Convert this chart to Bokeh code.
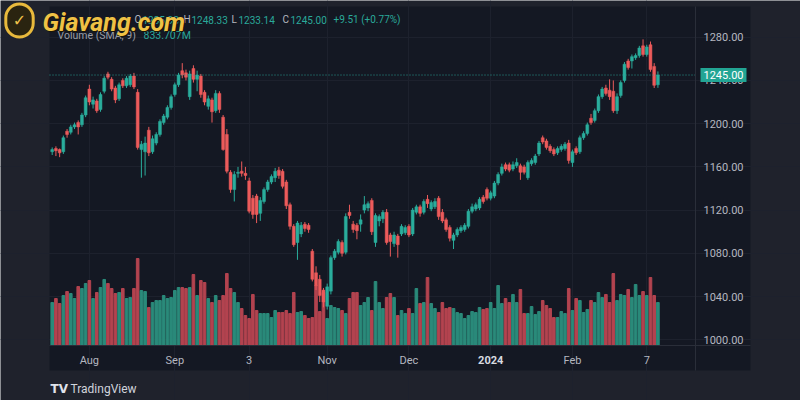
from bokeh.plotting import figure
from bokeh.models import (Range1d, FixedTicker, NumeralTickFormatter, Label,
                          BoxAnnotation, ColumnDataSource)
from bokeh.embed import file_html
from bokeh.resources import INLINE

# ---------------- data (daily candles) ----------------
opens = [1174, 1177, 1176, 1174, 1193, 1192, 1197, 1201, 1199, 1208,
         1232, 1218, 1221, 1213, 1230, 1246, 1241, 1233, 1223, 1240,
         1235, 1236, 1244, 1229, 1176, 1174, 1194, 1174, 1182, 1190,
         1201, 1206, 1215, 1227, 1236, 1249, 1247, 1225, 1251, 1241,
         1244, 1229, 1216, 1222, 1212, 1228, 1206, 1190, 1155, 1139,
         1154, 1156, 1154, 1147, 1131, 1133, 1117, 1128, 1139, 1146,
         1150, 1157, 1156, 1146, 1125, 1105, 1090, 1098, 1107, 1106,
         1082, 1062, 1056, 1046, 1031, 1045, 1076, 1081, 1090, 1081,
         1118, 1107, 1106, 1107, 1120, 1122, 1129, 1090, 1110, 1112,
         1118, 1097, 1089, 1096, 1098, 1099, 1105, 1098, 1118, 1123,
         1118, 1130, 1121, 1123, 1131, 1118, 1111, 1104, 1092, 1097,
         1101, 1102, 1105, 1119, 1121, 1122, 1132, 1139, 1131, 1133,
         1145, 1154, 1162, 1162, 1158, 1161, 1161, 1160, 1150, 1163,
         1164, 1172, 1187, 1184, 1179, 1176, 1173, 1176, 1177, 1182,
         1164, 1177, 1174, 1187, 1191, 1205, 1203, 1212, 1225, 1233,
         1231, 1230, 1212, 1226, 1240, 1258, 1258, 1261, 1263, 1272,
         1264, 1273, 1253, 1235.98]
highs = [1178, 1179, 1177, 1189, 1195, 1199, 1201, 1203, 1210, 1226,
         1236, 1225, 1223, 1229, 1244, 1248, 1243, 1235, 1238, 1242,
         1244, 1246, 1247, 1232, 1184, 1188, 1197, 1189, 1192, 1204,
         1209, 1217, 1227, 1238, 1247, 1256, 1250, 1249, 1254, 1249,
         1246, 1231, 1226, 1224, 1231, 1230, 1208, 1195, 1157, 1156,
         1160, 1165, 1160, 1150, 1134, 1135, 1132, 1141, 1148, 1153,
         1159, 1160, 1158, 1148, 1127, 1107, 1110, 1109, 1109, 1108,
         1084, 1068, 1060, 1048, 1052, 1078, 1084, 1093, 1092, 1117,
         1125, 1110, 1108, 1116, 1133, 1128, 1131, 1117, 1116, 1120,
         1121, 1099, 1100, 1098, 1107, 1106, 1107, 1122, 1125, 1125,
         1130, 1134, 1129, 1131, 1133, 1121, 1113, 1106, 1099, 1104,
         1106, 1108, 1121, 1126, 1127, 1132, 1134, 1141, 1138, 1147,
         1155, 1163, 1164, 1164, 1165, 1168, 1163, 1162, 1166, 1168,
         1172, 1184, 1189, 1186, 1181, 1178, 1179, 1181, 1183, 1185,
         1176, 1179, 1189, 1193, 1201, 1209, 1214, 1227, 1234, 1236,
         1241, 1240, 1228, 1240, 1257, 1260, 1264, 1265, 1272, 1278,
         1273, 1276, 1256, 1248.33]
lows = [1171, 1170, 1169, 1172, 1187, 1190, 1195, 1190, 1197, 1206,
        1217, 1214, 1210, 1211, 1228, 1241, 1230, 1219, 1221, 1233,
        1233, 1234, 1232, 1176, 1150, 1152, 1170, 1172, 1180, 1188,
        1199, 1204, 1213, 1225, 1234, 1242, 1240, 1222, 1238, 1230,
        1224, 1217, 1213, 1201, 1210, 1210, 1175, 1154, 1136, 1128,
        1150, 1151, 1148, 1117, 1112, 1108, 1110, 1126, 1137, 1144,
        1146, 1149, 1140, 1121, 1102, 1086, 1074, 1095, 1100, 1099,
        1054, 1046, 1035, 1030, 1028, 1042, 1074, 1079, 1077, 1079,
        1112, 1099, 1093, 1100, 1117, 1119, 1097, 1086, 1105, 1108,
        1088, 1077, 1086, 1076, 1096, 1097, 1095, 1096, 1116, 1114,
        1116, 1122, 1119, 1121, 1111, 1108, 1100, 1091, 1084, 1095,
        1099, 1100, 1103, 1117, 1119, 1120, 1126, 1129, 1129, 1131,
        1143, 1152, 1156, 1155, 1156, 1159, 1148, 1153, 1148, 1161,
        1162, 1170, 1181, 1176, 1173, 1170, 1171, 1174, 1175, 1163,
        1160, 1171, 1172, 1185, 1189, 1199, 1201, 1210, 1223, 1226,
        1222, 1210, 1209, 1224, 1238, 1250, 1251, 1259, 1261, 1262,
        1262, 1248, 1233, 1233.14]
closes = [1176, 1175, 1173, 1187, 1190, 1197, 1199, 1197, 1208, 1224,
          1220, 1222, 1212, 1227, 1242, 1243, 1232, 1222, 1236, 1235,
          1242, 1244, 1234, 1178, 1181, 1182, 1173, 1186, 1190, 1202,
          1207, 1215, 1225, 1236, 1245, 1245, 1243, 1246, 1241, 1245,
          1227, 1220, 1223, 1211, 1228, 1213, 1176, 1156, 1139, 1153,
          1155, 1154, 1152, 1119, 1116, 1116, 1129, 1139, 1146, 1151,
          1156, 1152, 1142, 1124, 1105, 1088, 1108, 1106, 1103, 1102,
          1056, 1050, 1041, 1035, 1049, 1076, 1082, 1091, 1080, 1114,
          1115, 1102, 1101, 1111, 1125, 1126, 1100, 1115, 1114, 1118,
          1090, 1091, 1097, 1088, 1105, 1104, 1097, 1120, 1123, 1117,
          1128, 1126, 1127, 1128, 1114, 1110, 1102, 1094, 1097, 1102,
          1104, 1106, 1119, 1123, 1125, 1130, 1128, 1131, 1136, 1145,
          1153, 1160, 1158, 1157, 1162, 1164, 1155, 1155, 1164, 1166,
          1170, 1182, 1183, 1178, 1175, 1172, 1177, 1179, 1181, 1166,
          1174, 1173, 1187, 1191, 1199, 1201, 1212, 1225, 1232, 1228,
          1225, 1212, 1225, 1238, 1255, 1252, 1262, 1263, 1270, 1264,
          1271, 1250, 1235.49, 1245.00]
volumes_m = [671, 733, 655, 780, 842, 811, 733, 920, 889, 967,
             1014, 733, 827, 905, 1030, 967, 889, 811, 827, 889,
             733, 749, 889, 1357, 858, 842, 593, 671, 702, 702,
             780, 733, 749, 858, 905, 905, 889, 905, 1108, 780,
             1014, 983, 733, 671, 780, 702, 780, 1123, 889, 827,
             671, 577, 468, 421, 796, 546, 499, 499, 499, 437,
             546, 515, 515, 546, 499, 827, 515, 530, 468, 421,
             437, 936, 530, 827, 421, 624, 593, 577, 546, 499,
             733, 827, 827, 624, 671, 749, 546, 998, 671, 577,
             749, 811, 749, 468, 546, 499, 577, 499, 889, 655,
             671, 1061, 655, 577, 515, 671, 577, 593, 577, 515,
             499, 421, 468, 530, 515, 593, 562, 577, 671, 577,
             936, 655, 733, 671, 796, 671, 874, 499, 499, 608,
             484, 530, 702, 624, 577, 437, 437, 530, 499, 889,
             546, 733, 702, 515, 562, 702, 671, 827, 749, 796,
             671, 1123, 702, 796, 780, 874, 749, 952, 780, 842,
             780, 1061, 780, 671]

tick_index = [10, 33, 53, 74, 96, 118, 140, 160]
tick_labels = ["Aug", "Sep", "3", "Nov", "Dec", "2024", "Feb", "7"]
price_ticks = [1000, 1040, 1080, 1120, 1160, 1200, 1240, 1280]
last_price = 1245.00
header_values = ["1235.98", "1248.33", "1233.14", "1245.00"]
change_text = "+9.51 (+0.77%)"
volume_sma = "833.707M"

# ---------------- layout constants (canvas pixels) ----------------
W, H = 800, 400
X0_PX, DX_PX = 51.7, 3.716          # first candle position, candle spacing
P_REF, Y_REF, PY = 1280.0, 36.7, 1.0807   # price 1280 at y=36.7, px per point
VOL_PX = 15.6                        # million shares per pixel
PLOT_L, PLOT_R, PLOT_T, PLOT_B = 49, 695, 6, 345
WIDGET_R, WIDGET_B = 750, 370

def xd(px):   # canvas x -> bar index
    return (px - X0_PX) / DX_PX

def yd(py):   # canvas y -> price
    return P_REF - (py - Y_REF) / PY

# ---------------- styling ----------------
INNER = "#141823"
OUTER = "#1f222c"
GRID = "#1d212d"
UP = "#2aad9c"
DOWN = "#ec5b5b"
VUP = "#2a8a7a"
VDOWN = "#b3434f"
TXT = "#b4b7c0"
TEAL = "#2aa99a"

n = len(closes)
idx = list(range(n))
is_up = [c >= o for o, c in zip(opens, closes)]
src = ColumnDataSource(dict(
    x=idx,
    o=opens, h=highs, l=lows, c=closes,
    top=[max(o, c) for o, c in zip(opens, closes)],
    bot=[min(o, c) for o, c in zip(opens, closes)],
    col=[UP if u else DOWN for u in is_up],
    vcol=[VUP if u else VDOWN for u in is_up],
    vol=volumes_m,
))

p = figure(width=W, height=H, output_backend="svg", toolbar_location=None,
           x_range=Range1d(xd(0), xd(W)), y_range=Range1d(yd(H), yd(0)),
           x_axis_location="below", y_axis_location="right",
           min_border_left=0, min_border_right=0, min_border_top=0, min_border_bottom=0,
           background_fill_color=OUTER, border_fill_color=OUTER, outline_line_color=None)

p.extra_y_ranges = {"vol": Range1d(-(H - PLOT_B) * VOL_PX, PLOT_B * VOL_PX)}

# widget background
p.add_layout(BoxAnnotation(left=xd(PLOT_L), right=xd(WIDGET_R), top=yd(PLOT_T), bottom=yd(WIDGET_B),
                           fill_color=INNER, fill_alpha=1, line_color=None, level="image"))

# grids
p.xgrid.ticker = FixedTicker(ticks=tick_index)
p.ygrid.ticker = FixedTicker(ticks=price_ticks)
p.xgrid.grid_line_color = GRID
p.ygrid.grid_line_color = GRID
p.xgrid.bounds = (yd(PLOT_B), yd(PLOT_T))
p.ygrid.bounds = (xd(PLOT_L), xd(PLOT_R))

# axes (drawn at fixed positions inside the canvas)
p.yaxis.fixed_location = xd(PLOT_R)
p.yaxis.bounds = (yd(WIDGET_B), yd(PLOT_T))
p.xaxis.fixed_location = yd(PLOT_B)
p.xaxis.bounds = (xd(PLOT_L), xd(WIDGET_R))
p.yaxis.ticker = FixedTicker(ticks=price_ticks)
p.yaxis.formatter = NumeralTickFormatter(format="0.00")
p.xaxis.ticker = FixedTicker(ticks=tick_index)
overrides = {i: t for i, t in zip(tick_index, tick_labels)}
overrides[118] = ""
p.xaxis.major_label_overrides = overrides
for ax in (p.xaxis, p.yaxis):
    ax.axis_line_color = "#2a2e39"
    ax.major_tick_line_color = None
    ax.minor_tick_line_color = None
    ax.major_tick_out = 0
    ax.major_tick_in = 0
    ax.major_label_text_color = TXT
    ax.major_label_text_font = "Roboto"
    ax.major_label_text_font_size = "11px"
p.yaxis.major_label_standoff = 8
p.xaxis.major_label_standoff = 8

# volume
p.vbar(x="x", top="vol", bottom=0, width=0.7, color="vcol", source=src, y_range_name="vol")

# candles
p.segment(x0="x", y0="l", x1="x", y1="h", color="col", line_width=1, source=src)
p.vbar(x="x", top="top", bottom="bot", width=0.78, fill_color="col", line_color="col",
       line_width=0.5, source=src)

# last price line
p.segment(x0=[xd(PLOT_L)], x1=[xd(PLOT_R)], y0=[last_price], y1=[last_price],
          line_color=TEAL, line_dash="1 2", line_width=1, line_alpha=0.9)

def lab(x, y, text, color, size="10px", style="normal", align="left", font="Roboto"):
    p.add_layout(Label(x=x, y=H - y, x_units="screen", y_units="screen",
                       text=text, text_color=color, text_font=font, text_font_size=size,
                       text_font_style=style, text_align=align, text_baseline="middle"))

# price tag
p.add_layout(Label(x=PLOT_R + 5, y=last_price, x_units="screen", y_units="data",
                   text=f"{last_price:.2f}", text_color="#ffffff", text_font="Roboto",
                   text_font_size="11px", text_baseline="middle", text_align="left",
                   background_fill_color="#22a594", padding=3))

# bold year label on the time axis
p.add_layout(Label(x=118, y=H - 359, x_units="data", y_units="screen", text="2024",
                   text_color="#d8dae0", text_font="Roboto", text_font_size="11px",
                   text_font_style="bold", text_align="center", text_baseline="middle"))

# header legend
lab(134, 19, "O", TXT)
lab(142, 19, header_values[0], TEAL)
lab(183, 19, "H", TXT)
lab(191, 19, header_values[1], TEAL)
lab(231, 19, "L", TXT)
lab(238, 19, header_values[2], TEAL)
lab(282, 19, "C", TXT)
lab(290, 19, header_values[3], TEAL)
lab(333, 19, change_text, TEAL)
lab(57, 35, "Volume (SMA, 9)", "#9a9da6", size="10.5px")
lab(143, 35, volume_sma, TEAL, size="10.5px")

# watermark logo
p.add_layout(Label(x=19, y=H - 20, x_units="screen", y_units="screen", text="✓",
                   text_color="#f0c24a", text_font="DejaVu Sans", text_font_size="16px",
                   text_font_style="bold", text_align="center", text_baseline="middle",
                   border_line_color="#e8b93c", border_line_width=3, border_radius=14,
                   background_fill_color="#2a2410", padding=7))
lab(43, 23, "Giavang.com", "#1a1405", size="25px", style="bold italic")
lab(42, 22, "Giavang.com", "#efc246", size="25px", style="bold italic")

# footer
lab(50, 388, "TV", "#e0e3eb", size="12px", style="bold", font="DejaVu Sans")
lab(70, 388, "TradingView", "#d1d4dc", size="12px")

open("out.html", "w").write(file_html(p, INLINE))
